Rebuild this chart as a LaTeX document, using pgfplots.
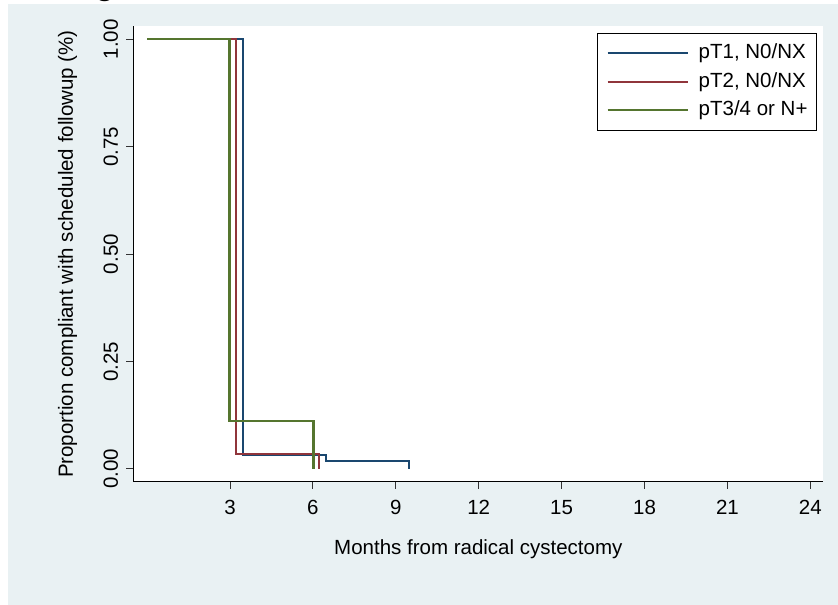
\documentclass[border=0pt]{standalone}
\usepackage{pgfplots}
\pgfplotsset{compat=1.18}
\usepackage{fontspec}
\setmainfont{Liberation Sans}
\newfontfamily\calibri{Carlito}
\definecolor{panel}{RGB}{233,241,243}
\definecolor{stnavy}{RGB}{26,71,111}
\definecolor{stmaroon}{RGB}{144,53,59}
\definecolor{stgreen}{RGB}{85,117,47}
\begin{document}
\begin{tikzpicture}[x=1pt,y=1pt]
\useasboundingbox (0,0) rectangle (838,605);
\fill[panel] (8,0) rectangle (838,601);
\node[anchor=base west, inner sep=0pt, font=\calibri\fontsize{36}{44}\selectfont] at (45,609.5) {st ages};
\begin{axis}[
  at={(133.3pt,123pt)}, anchor=south west,
  scale only axis, width=690pt, height=456pt,
  xmin=-0.5, xmax=24.47, ymin=-0.0303, ymax=1.031,
  axis x line*=bottom, axis y line*=left,
  axis line style={line width=1pt, black},
  axis background/.style={fill=white},
  xtick={3,6,9,12,15,18,21,24},
  xticklabels={3,6,9,12,15,18,21,24},
  ytick={0,0.25,0.5,0.75,1},
  yticklabels={0.00,0.25,0.50,0.75,1.00},
  tick align=outside, major tick length=7pt,
  tick style={line width=1pt, black!80},
  /pgf/number format/assume math mode=true,
  tick label style={font=\fontsize{20.5}{24}\selectfont},
  xticklabel style={anchor=north, inner sep=0pt, yshift=-11pt},
  yticklabel style={rotate=90, anchor=south, inner xsep=0pt, inner ysep=8pt},
  xlabel={Months from radical cystectomy},
  ylabel={Proportion compliant with scheduled followup (\%)},
  label style={font=\fontsize{20.5}{24}\selectfont},
  xlabel style={at={(axis description cs:0.5,-0.1579)}, anchor=base, inner sep=0pt},
  ylabel style={at={(axis description cs:-0.0812,0.5)}, anchor=south, rotate=0, inner sep=0pt},
  legend style={at={(rel axis cs:0.9909,0.9846)}, anchor=north east, draw=black, line width=1pt, fill=white,
    font=\fontsize{20.5}{24}\selectfont, inner xsep=9pt, inner ysep=10pt, row sep=9pt,
    nodes={inner xsep=0pt, inner ysep=0pt, text height=15pt, text depth=4.5pt}},
  legend cell align=left,
  legend image code/.code={\draw[#1] (0pt,0pt) -- (80pt,0pt);},
]
\addplot[stnavy, line width=2.2pt] coordinates {(0,1) (3.47,1) (3.47,0.0333) (6.46,0.0333) (6.46,0.0186) (9.49,0.0186) (9.49,0)};
\addlegendentry{\hspace{10pt}pT1, N0/NX\hspace{9pt}}
\addplot[stmaroon, line width=2.2pt] coordinates {(0,1) (3.22,1) (3.22,0.0357) (6.23,0.0357) (6.23,0)};
\addlegendentry{\hspace{10pt}pT2, N0/NX\hspace{9pt}}
\addplot[stgreen, line width=2.2pt] coordinates {(0,1) (2.98,1) (2.98,0.111) (6.02,0.111) (6.02,0)};
\addlegendentry{\hspace{10pt}pT3/4 or N+\hspace{9pt}}
\end{axis}
\end{tikzpicture}
\end{document}
